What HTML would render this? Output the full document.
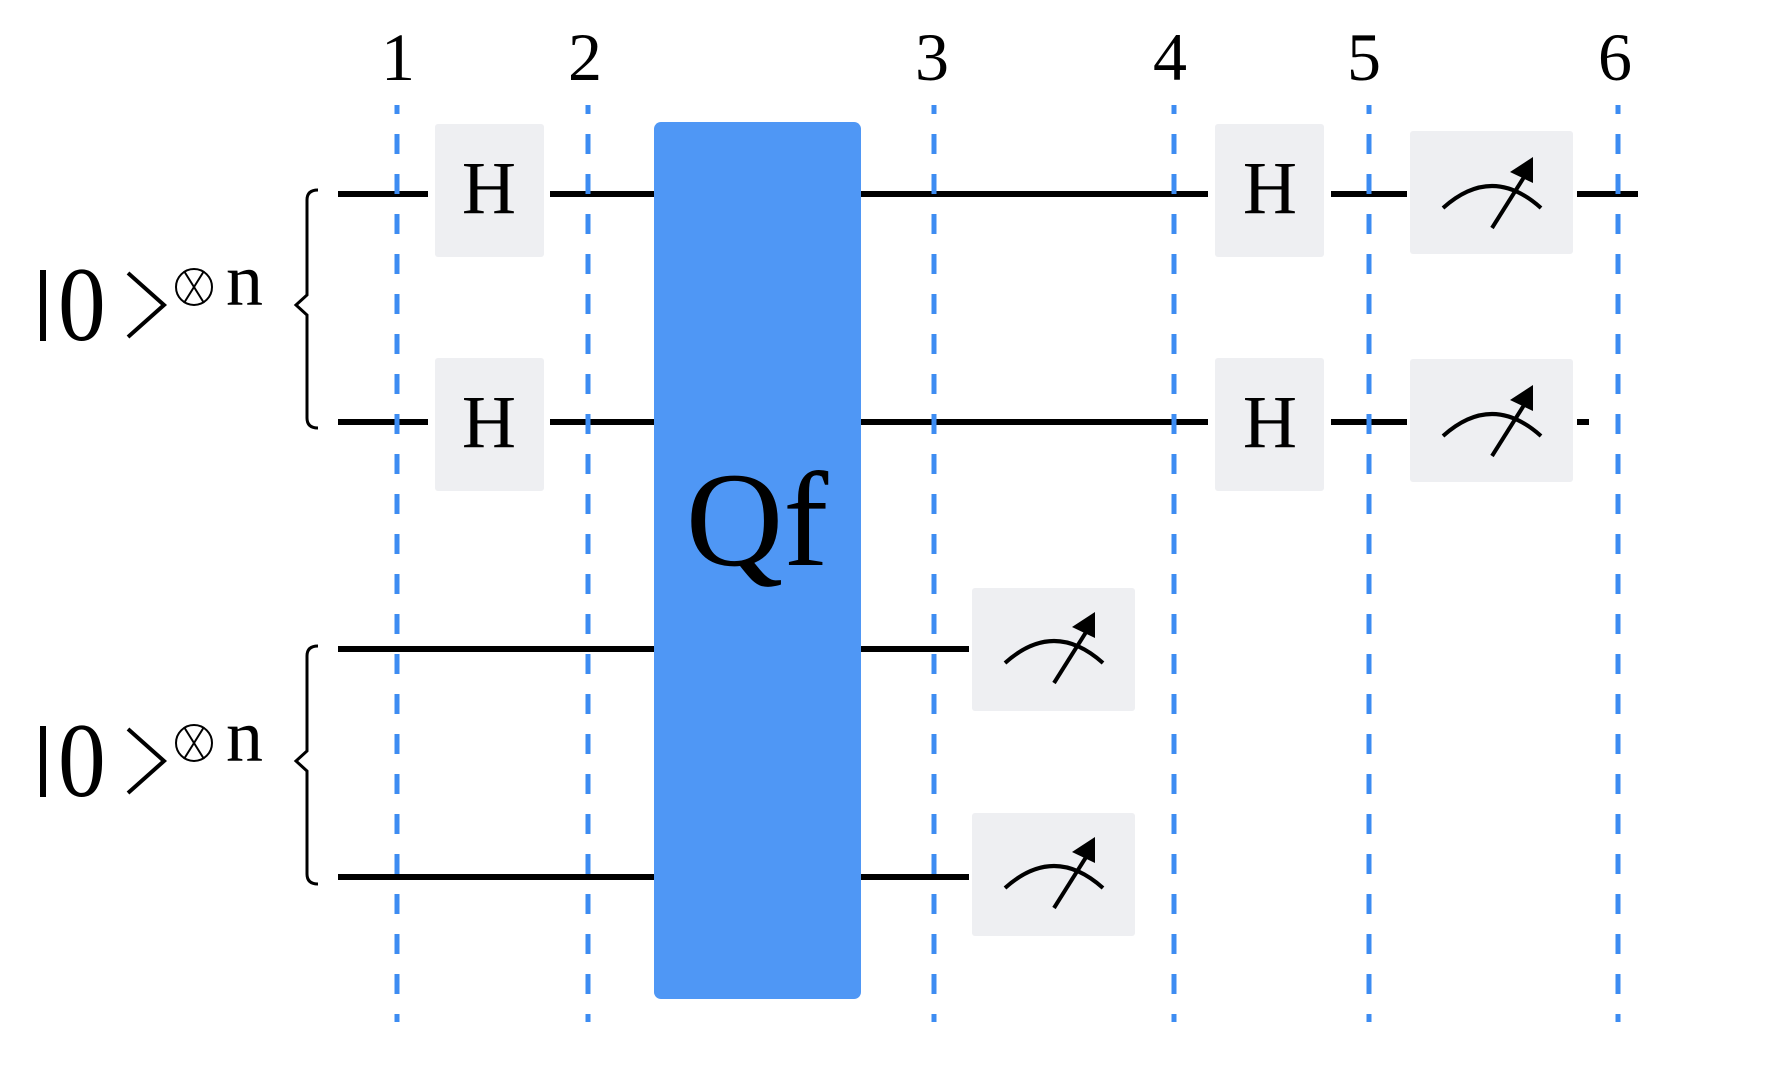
<!DOCTYPE html>
<html><head><meta charset="utf-8"><style>html,body{margin:0;padding:0;background:#fff}svg{display:block}</style></head>
<body>
<svg width="1786" height="1068" viewBox="0 0 1786 1068" xmlns="http://www.w3.org/2000/svg" font-family="Liberation Serif, serif">
<rect width="1786" height="1068" fill="#fff"/>
<rect x="654" y="122" width="207" height="877" rx="7" fill="#4f97f5"/>
<g stroke="#000" stroke-width="6">
<line x1="338" y1="194" x2="428" y2="194"/><line x1="550" y1="194" x2="654" y2="194"/>
<line x1="861" y1="194" x2="1208" y2="194"/><line x1="1331" y1="194" x2="1407" y2="194"/><line x1="1577" y1="194" x2="1638" y2="194"/>
<line x1="338" y1="422" x2="428" y2="422"/><line x1="550" y1="422" x2="654" y2="422"/>
<line x1="861" y1="422" x2="1208" y2="422"/><line x1="1331" y1="422" x2="1407" y2="422"/><line x1="1577" y1="422" x2="1589" y2="422"/>
<line x1="338" y1="649" x2="654" y2="649"/><line x1="861" y1="649" x2="969" y2="649"/>
<line x1="338" y1="877" x2="654" y2="877"/><line x1="861" y1="877" x2="969" y2="877"/>
</g>
<g fill="#eeeff2">
<rect x="435" y="124" width="109" height="133" rx="3"/><rect x="435" y="358" width="109" height="133" rx="3"/>
<rect x="1215" y="124" width="109" height="133" rx="3"/><rect x="1215" y="358" width="109" height="133" rx="3"/>
<rect x="1410" y="131" width="163" height="123" rx="3"/><rect x="1410" y="359" width="163" height="123" rx="3"/>
<rect x="972" y="588" width="163" height="123" rx="3"/><rect x="972" y="813" width="163" height="123" rx="3"/>
</g>
<g stroke="#3d8cf2" stroke-width="5" stroke-dasharray="20 20" stroke-dashoffset="11">
<line x1="397" y1="105" x2="397" y2="1022"/><line x1="588" y1="105" x2="588" y2="1022"/>
<line x1="934" y1="105" x2="934" y2="1022"/><line x1="1174" y1="105" x2="1174" y2="1022"/>
<line x1="1369" y1="105" x2="1369" y2="1022"/><line x1="1618" y1="105" x2="1618" y2="1022"/>
</g>
<g font-size="75" text-anchor="middle" fill="#000">
<text x="489" y="213">H</text><text x="489" y="447">H</text>
<text x="1270" y="213">H</text><text x="1270" y="447">H</text>
</g>
<defs>
<g id="m">
<path d="M-49 22 Q0 -22 49 22" fill="none" stroke="#000" stroke-width="4"/>
<line x1="0" y1="42" x2="34" y2="-12" stroke="#000" stroke-width="4"/>
<polygon points="41,-29 18,-14 41,-3" fill="#000"/>
</g>
</defs>
<use href="#m" x="1492" y="186"/><use href="#m" x="1492" y="414"/>
<use href="#m" x="1054" y="641"/><use href="#m" x="1054" y="866"/>
<g font-size="68" text-anchor="middle" fill="#000">
<text x="398" y="80">1</text><text x="585" y="80">2</text><text x="932" y="80">3</text>
<text x="1170" y="80">4</text><text x="1364" y="80">5</text><text x="1615" y="80">6</text>
</g>
<text x="757" y="565" font-size="135" text-anchor="middle" fill="#000">Qf</text>
<g id="k">
<rect x="40" y="270" width="6" height="71" fill="#000"/>
<text x="58" y="340" font-size="106" fill="#000" transform="translate(58 0) scale(0.9 1) translate(-58 0)">0</text>
<polyline points="128,273 164,305 128,337" fill="none" stroke="#000" stroke-width="4"/>
<circle cx="194" cy="287" r="18" fill="none" stroke="#000" stroke-width="2"/>
<line x1="184" y1="271" x2="204" y2="303" stroke="#000" stroke-width="2"/>
<line x1="204" y1="271" x2="184" y2="303" stroke="#000" stroke-width="2"/>
<text x="226" y="305" font-size="74" fill="#000">n</text>
<path d="M318 190 Q307 190 307 200 L307 295 L296 305 L307 315 L307 418 Q307 428 318 428" fill="none" stroke="#000" stroke-width="3"/>
</g>
<use href="#k" y="456"/>
</svg>
</body></html>
